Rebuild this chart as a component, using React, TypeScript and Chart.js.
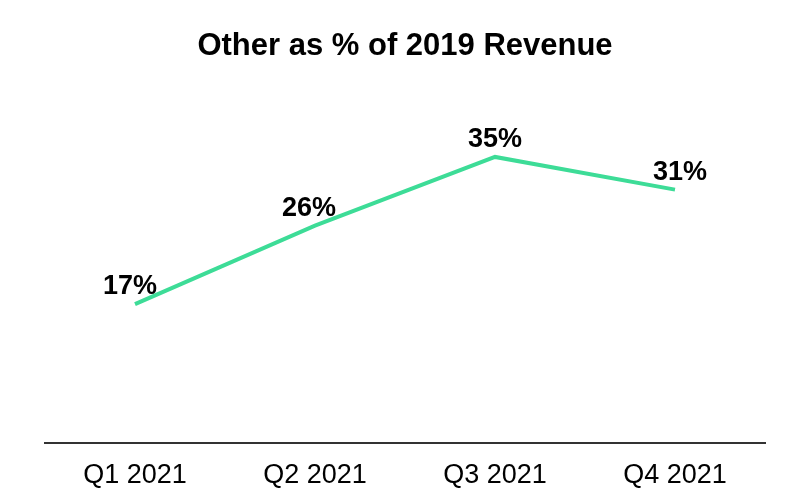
import React, { useEffect, useRef } from "react";
import { Chart, registerables } from "chart.js";

Chart.register(...registerables);

const categories = ["Q1 2021", "Q2 2021", "Q3 2021", "Q4 2021"];
const values = [17, 26.6, 35, 31];
const valueLabels = ["17%", "26%", "35%", "31%"];
const titleText = "Other as % of 2019 Revenue";

const FONT = "'Liberation Sans', Arial, Helvetica, sans-serif";
const labelDx = [-5, -6, 0, 5];

const labelPlugin = {
  id: "valueLabels",
  afterDatasetsDraw(chart: any) {
    const ctx = chart.ctx;
    const meta = chart.getDatasetMeta(0);
    ctx.save();
    ctx.font = `bold 27px ${FONT}`;
    ctx.fillStyle = "#000";
    ctx.textAlign = "center";
    ctx.textBaseline = "alphabetic";
    meta.data.forEach((pt: any, i: number) => {
      ctx.fillText(valueLabels[i], pt.x + labelDx[i], pt.y - 10);
    });
    ctx.restore();
  },
};

export default function App() {
  const ref = useRef<HTMLCanvasElement>(null);
  useEffect(() => {
    const chart = new Chart(ref.current!, {
      type: "line",
      data: {
        labels: categories,
        datasets: [
          {
            data: values,
            borderColor: "#3ddc97",
            borderWidth: 4,
            pointRadius: 0,
            tension: 0,
            fill: false,
          },
        ],
      },
      options: {
        animation: false,
        responsive: false,
        layout: { padding: { left: 45, right: 25, top: 0, bottom: 0 } },
        plugins: {
          legend: { display: false },
          tooltip: { enabled: false },
          title: {
            display: true,
            text: titleText,
            color: "#000",
            font: { family: FONT, size: 31, weight: "bold" },
            padding: { top: 28, bottom: 10 },
          },
        },
        scales: {
          x: {
            offset: true,
            grid: { display: false, drawTicks: false },
            border: { display: true, color: "#333", width: 2 },
            ticks: {
              color: "#000",
              font: { family: FONT, size: 27, lineHeight: 0.4 },
              padding: 27,
            },
            afterFit: (scale: any) => {
              scale.height = 49;
            },
          },
          y: {
            display: false,
            min: 0,
            max: 45,
          },
        },
      },
      plugins: [labelPlugin],
    });
    return () => chart.destroy();
  }, []);
  return (
    <div style={{ position: "fixed", left: 0, top: 0, width: 790, height: 492, background: "#fff" }}>
      <canvas ref={ref} width={790} height={492} />
    </div>
  );
}
